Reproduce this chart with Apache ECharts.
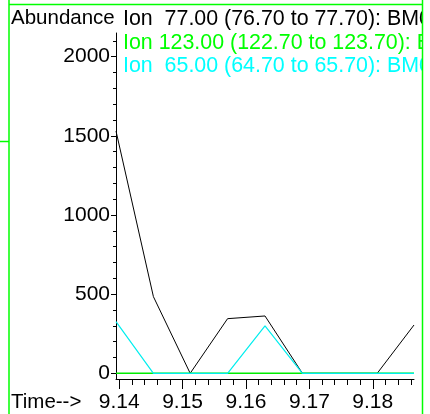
<!DOCTYPE html>
<html><head><meta charset="utf-8">
<script src="https://cdn.jsdelivr.net/npm/echarts@6/dist/echarts.min.js"></script>
<style>html,body{margin:0;padding:0;background:#fff}#c{width:430px;height:414px}</style>
</head><body><div id="c"></div>
<script>
const scanTimes = [9.1395, 9.1454, 9.1512, 9.1571, 9.1630, 9.1689, 9.1748, 9.1807, 9.1865];
const ion77 = [1530, 484, 0, 345, 362, 0, 0, 0, 305];
const ion123 = [0, 0, 0, 0, 0, 0, 0, 0, 0];
const ion65 = [326, 0, 0, 0, 300, 0, 0, 0, 0];
const xMajorTicks = [9.14, 9.15, 9.16, 9.17, 9.18];
const xMinorTicks = [9.140, 9.142, 9.144, 9.146, 9.148, 9.150, 9.152, 9.154, 9.156, 9.158, 9.160, 9.162, 9.164, 9.166, 9.168, 9.170, 9.172, 9.174, 9.176, 9.178, 9.180, 9.182, 9.184, 9.186];
const yMajorTicks = [0, 500, 1000, 1500, 2000];
const yMinorTicks = [0, 100, 200, 300, 400, 500, 600, 700, 800, 900, 1000, 1100, 1200, 1300, 1400, 1500, 1600, 1700, 1800, 1900, 2000, 2100];
const legendLabels = ['Ion  77.00 (76.70 to 77.70): BM0', 'Ion 123.00 (122.70 to 123.70): BM0', 'Ion  65.00 (64.70 to 65.70): BM0'];
const seriesColors = ['#000000', '#00ee00', '#00eeee'];
const peakIndex = 4;
const peakLabel = '9.16';
const yTitle = 'Abundance';
const xTitle = 'Time-->';

const FONT = '"Liberation Sans", Arial, sans-serif';
const FS = 21;
const LFS = 21.4;
const chart = echarts.init(document.getElementById('c'));

function pts(vals) { return scanTimes.map((t, i) => [t, vals[i]]); }
const blackData = pts(ion77).map((p, i) => i === peakIndex ? {
  value: p,
  label: { show: true, position: 'top', distance: 2, offset: [4, 0], formatter: peakLabel,
           fontFamily: FONT, fontSize: FS, color: '#000' }
} : p);

const xMin = 9.1395, xMax = 9.1865, yMin = -36, yMax = 2149;
const grid = { left: 116, top: 33, width: 298, height: 346 };

chart.setOption({
  animation: false,
  backgroundColor: '#fff',
  grid: grid,
  xAxis: [
    { type: 'value', min: xMin, max: xMax, position: 'bottom',
      axisLine: { show: true, onZero: false, lineStyle: { color: '#000', width: 1 } },
      axisTick: { show: true, customValues: xMajorTicks, length: 10, inside: false, lineStyle: { color: '#000' } },
      axisLabel: { show: true, customValues: xMajorTicks, formatter: v => v.toFixed(2), margin: 13,
                   fontFamily: FONT, fontSize: FS, color: '#000' },
      splitLine: { show: false } },
    { type: 'value', min: xMin, max: xMax, position: 'bottom',
      axisLine: { show: false, onZero: false },
      axisTick: { show: true, customValues: xMinorTicks, length: 6, lineStyle: { color: '#000' } },
      axisLabel: { show: false }, splitLine: { show: false } }
  ],
  yAxis: [
    { type: 'value', min: yMin, max: yMax, position: 'left',
      axisLine: { show: true, onZero: false, lineStyle: { color: '#000', width: 1 } },
      axisTick: { show: true, customValues: yMajorTicks, length: 5, lineStyle: { color: '#000' } },
      axisLabel: { show: true, customValues: yMajorTicks, formatter: v => String(v), margin: 6,
                   fontFamily: FONT, fontSize: FS, color: '#000' },
      splitLine: { show: false } },
    { type: 'value', min: yMin, max: yMax, position: 'left',
      axisLine: { show: false, onZero: false },
      axisTick: { show: true, customValues: yMinorTicks, length: 3, lineStyle: { color: '#000' } },
      axisLabel: { show: false }, splitLine: { show: false } }
  ],
  series: [
    { type: 'line', data: blackData, symbol: 'none', lineStyle: { color: seriesColors[0], width: 1 }, z: 3 },
    { type: 'line', data: pts(ion123), symbol: 'none', lineStyle: { color: seriesColors[1], width: 1.5 }, z: 4 },
    { type: 'line', data: pts(ion65), symbol: 'none', lineStyle: { color: seriesColors[2], width: 1.2 }, z: 5 }
  ],
  graphic: [
    { type: 'text', x: 11, y: 18.5, style: { text: yTitle, font: '20.5px ' + FONT, fill: '#000', verticalAlign: 'middle' } },
    { type: 'text', x: 11, y: 402, style: { text: xTitle, font: '20.5px ' + FONT, fill: '#000', verticalAlign: 'middle' } },
    { type: 'text', x: 123, y: 19.5, style: { text: legendLabels[0], font: LFS + 'px ' + FONT, fill: seriesColors[0], verticalAlign: 'middle' } },
    { type: 'text', x: 123, y: 43, style: { text: legendLabels[1], font: LFS + 'px ' + FONT, fill: '#00ff00', verticalAlign: 'middle' } },
    { type: 'text', x: 123, y: 66.5, style: { text: legendLabels[2], font: LFS + 'px ' + FONT, fill: '#00ffff', verticalAlign: 'middle' } },
    { type: 'rect', shape: { x: 423, y: 0, width: 10, height: 414 }, style: { fill: '#fff' }, z: 100 },
    { type: 'line', shape: { x1: 9, y1: 0, x2: 9, y2: 414 }, style: { stroke: '#00ff00', lineWidth: 1.5 }, z: 101 },
    { type: 'line', shape: { x1: 422.5, y1: 0, x2: 422.5, y2: 414 }, style: { stroke: '#00ff00', lineWidth: 1.5 }, z: 101 },
    { type: 'line', shape: { x1: 9, y1: 4.5, x2: 423, y2: 4.5 }, style: { stroke: '#00ff00', lineWidth: 1.5 }, z: 101 },
    { type: 'line', shape: { x1: 0, y1: 141.5, x2: 9, y2: 141.5 }, style: { stroke: '#00ff00', lineWidth: 1.5 }, z: 101 }
  ]
});
</script></body></html>
